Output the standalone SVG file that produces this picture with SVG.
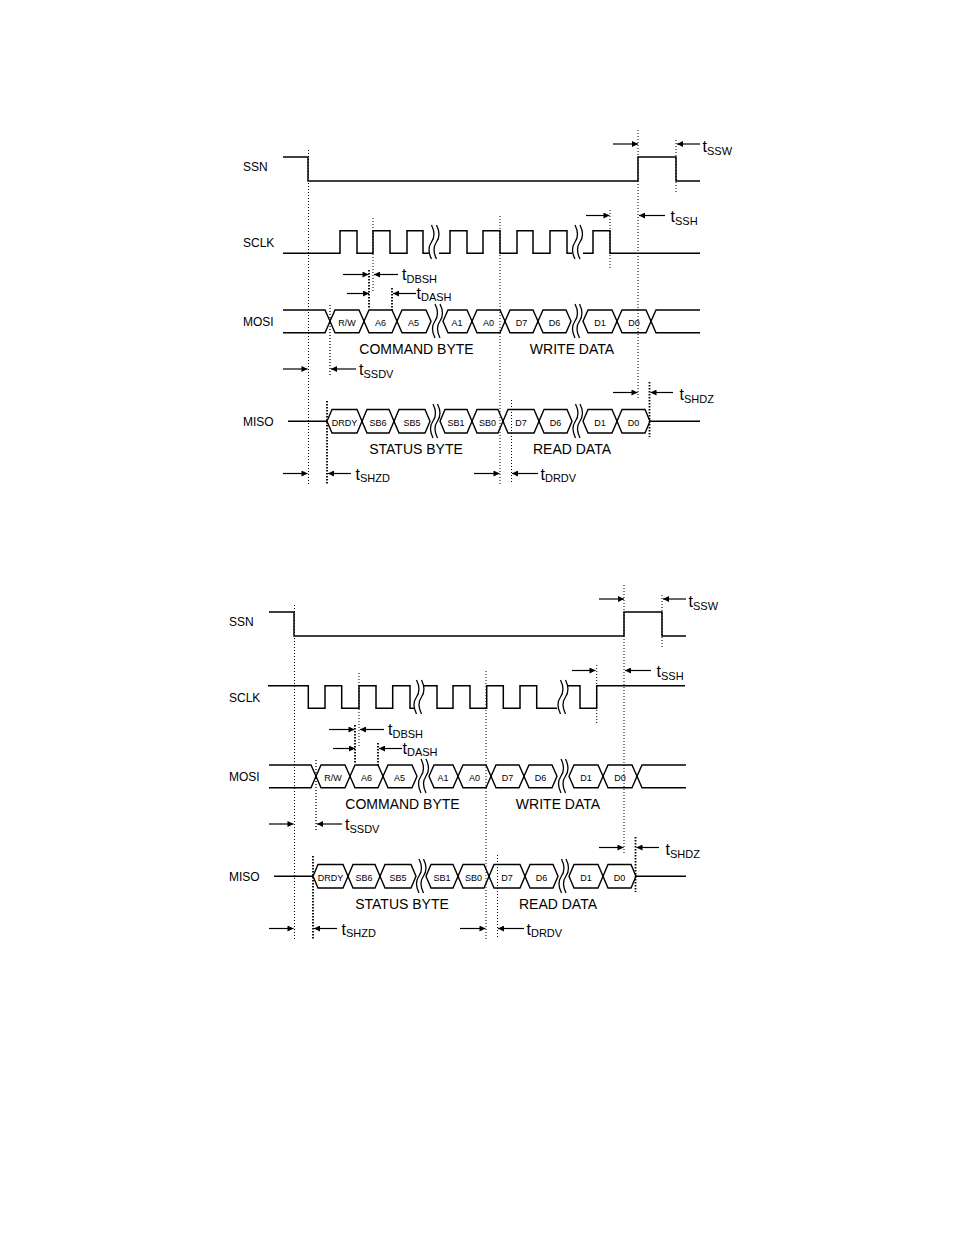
<svg xmlns="http://www.w3.org/2000/svg" xmlns:xlink="http://www.w3.org/1999/xlink" width="954" height="1235" viewBox="0 0 954 1235">
<style>
text{font-family:"Liberation Sans",Arial,sans-serif;fill:#000}
.lbl{font-size:12px}
.byte{font-size:14px;text-anchor:middle}
.cell{font-size:9px;text-anchor:middle}
.t{font-size:16px}
.sub{font-size:11px}
.wave{fill:none;stroke:#000;stroke-width:1.5}
.bus{fill:none;stroke:#000;stroke-width:1.4;stroke-linejoin:miter}
.d1{fill:none;stroke:#000;stroke-width:1;stroke-dasharray:1 2}
.d2{fill:none;stroke:#000;stroke-width:1.8;stroke-dasharray:1.5 1.5}
.arr{fill:none;stroke:#000;stroke-width:1.2;marker-end:url(#ah)}
.sq{fill:none;stroke:#000;stroke-width:1.3}
</style>
<defs>
<marker id="ah" viewBox="0 0 10 10" refX="10" refY="5" markerWidth="8" markerHeight="6" orient="auto" markerUnits="userSpaceOnUse">
<path d="M0,0 L10,5 L0,10 z" fill="#000"/>
</marker>
<path id="sq" class="sq" d="M0,0 c3.5,7 3.5,12 0,17 c-3.5,5 -3.5,10 0,17"/>
</defs>
<rect width="954" height="1235" fill="#fff"/>

<!-- ================= TOP DIAGRAM ================= -->
<g id="diagram-top">
<g id="top-ssn">
<text class="lbl" x="243" y="171">SSN</text>
<path class="wave" d="M283,157 H308 V181 H638 V157 H676 V181 H700"/>
</g>
<g id="top-sclk">
<text class="lbl" x="243" y="247">SCLK</text>
<path class="wave" d="M283,253.3 H340 V230.7 H357 V253.3 H373 V230.7 H390 V253.3 H407 V230.7 H423 V253.3 H429 M439,253.3 H450 V230.7 H467 V253.3 H483 V230.7 H500 V253.3 H517 V230.7 H533 V253.3 H550 V230.7 H567 V253.3 H572 M583,253.3 H593 V230.7 H610 V253.3 H700"/>
<use xlink:href="#sq" href="#sq" x="431.5" y="225"/>
<use xlink:href="#sq" href="#sq" x="436.5" y="225"/>
<use xlink:href="#sq" href="#sq" x="575" y="225"/>
<use xlink:href="#sq" href="#sq" x="580" y="225"/>
</g>
<g id="top-mosi">
<text class="lbl" x="243" y="326">MOSI</text>
<path class="bus" d="M283,310 H325 L330,321.3 L325,332.7 H283"/>
<polygon class="bus" points="330,321.3 335,310 359,310 364,321.3 359,332.7 335,332.7"/>
<polygon class="bus" points="364,321.3 369,310 392,310 397,321.3 392,332.7 369,332.7"/>
<polygon class="bus" points="397,321.3 402,310 426,310 431,321.3 426,332.7 402,332.7"/>
<polygon class="bus" points="443,321.3 448,310 467,310 472,321.3 467,332.7 448,332.7"/>
<polygon class="bus" points="472,321.3 477,310 500,310 505,321.3 500,332.7 477,332.7"/>
<polygon class="bus" points="505,321.3 510,310 533,310 538,321.3 533,332.7 510,332.7"/>
<polygon class="bus" points="538,321.3 543,310 566,310 571,321.3 566,332.7 543,332.7"/>
<polygon class="bus" points="583,321.3 588,310 612,310 617,321.3 612,332.7 588,332.7"/>
<polygon class="bus" points="617,321.3 622,310 646,310 651,321.3 646,332.7 622,332.7"/>
<path class="bus" d="M700,310 H656 L651,321.3 L656,332.7 H700"/>
<use xlink:href="#sq" href="#sq" x="435" y="304"/>
<use xlink:href="#sq" href="#sq" x="440" y="304"/>
<use xlink:href="#sq" href="#sq" x="575" y="304"/>
<use xlink:href="#sq" href="#sq" x="579.5" y="304"/>
<text class="cell" x="347" y="326">R/W</text>
<text class="cell" x="380.5" y="326">A6</text>
<text class="cell" x="413.5" y="326">A5</text>
<text class="cell" x="457" y="326">A1</text>
<text class="cell" x="488.5" y="326">A0</text>
<text class="cell" x="521.5" y="326">D7</text>
<text class="cell" x="554.5" y="326">D6</text>
<text class="cell" x="600" y="326">D1</text>
<text class="cell" x="634" y="326">D0</text>
<text class="byte" x="416.5" y="354">COMMAND BYTE</text>
<text class="byte" x="572" y="354">WRITE DATA</text>
</g>
<g id="top-miso">
<text class="lbl" x="243" y="426">MISO</text>
<path class="bus" d="M288,421.3 H327"/>
<polygon class="bus" points="327,421.3 332,409.5 357,409.5 362,421.3 357,433 332,433"/>
<polygon class="bus" points="362,421.3 367,409.5 389,409.5 394,421.3 389,433 367,433"/>
<polygon class="bus" points="394,421.3 399,409.5 425,409.5 430,421.3 425,433 399,433"/>
<polygon class="bus" points="440,421.3 445,409.5 467,409.5 472,421.3 467,433 445,433"/>
<polygon class="bus" points="472,421.3 477,409.5 498,409.5 503,421.3 498,433 477,433"/>
<polygon class="bus" points="503,421.3 508,409.5 534,409.5 539,421.3 534,433 508,433"/>
<polygon class="bus" points="539,421.3 544,409.5 567,409.5 572,421.3 567,433 544,433"/>
<polygon class="bus" points="583,421.3 588,409.5 612,409.5 617,421.3 612,433 588,433"/>
<polygon class="bus" points="617,421.3 622,409.5 645,409.5 650,421.3 645,433 622,433"/>
<path class="bus" d="M650,421.3 H700"/>
<use xlink:href="#sq" href="#sq" x="433" y="404"/>
<use xlink:href="#sq" href="#sq" x="437.5" y="404"/>
<use xlink:href="#sq" href="#sq" x="575.5" y="404"/>
<use xlink:href="#sq" href="#sq" x="580" y="404"/>
<text class="cell" x="344.5" y="425.5">DRDY</text>
<text class="cell" x="378" y="425.5">SB6</text>
<text class="cell" x="412" y="425.5">SB5</text>
<text class="cell" x="456" y="425.5">SB1</text>
<text class="cell" x="487.5" y="425.5">SB0</text>
<text class="cell" x="521" y="425.5">D7</text>
<text class="cell" x="555.5" y="425.5">D6</text>
<text class="cell" x="600" y="425.5">D1</text>
<text class="cell" x="633.5" y="425.5">D0</text>
<text class="byte" x="416" y="454">STATUS BYTE</text>
<text class="byte" x="572" y="453.5">READ DATA</text>
</g>
<g id="top-connectors">
<line class="d1" x1="308.5" y1="150" x2="308.5" y2="484"/>
<line class="d1" x1="373" y1="218" x2="373" y2="292"/>
<line class="d1" x1="500" y1="216" x2="500" y2="484"/>
<line class="d1" x1="610" y1="210" x2="610" y2="268"/>
<line class="d1" x1="638" y1="130" x2="638" y2="398"/>
<line class="d1" x1="676" y1="140" x2="676" y2="193"/>
<line class="d1" x1="511.5" y1="400" x2="511.5" y2="484"/>
<line class="d1" x1="330" y1="305" x2="330" y2="377" style="stroke-width:1.3"/>
<line class="d2" x1="369" y1="270" x2="369" y2="309"/>
<line class="d2" x1="392" y1="288" x2="392" y2="310"/>
<line class="d2" x1="327" y1="401" x2="327" y2="484"/>
<line class="d2" x1="649.5" y1="382" x2="649.5" y2="437"/>
<line class="arr" x1="613" y1="144" x2="638" y2="144"/>
<line class="arr" x1="700" y1="144" x2="677" y2="144"/>
<line class="arr" x1="586" y1="215.5" x2="609.5" y2="215.5"/>
<line class="arr" x1="665" y1="215.5" x2="639" y2="215.5"/>
<line class="arr" x1="343" y1="274.5" x2="368.5" y2="274.5"/>
<line class="arr" x1="398" y1="274.5" x2="374" y2="274.5"/>
<line class="arr" x1="347" y1="293.5" x2="369" y2="293.5"/>
<line class="arr" x1="416" y1="293.5" x2="393" y2="293.5"/>
<line class="arr" x1="283" y1="369" x2="307.5" y2="369"/>
<line class="arr" x1="356" y1="369" x2="331" y2="369"/>
<line class="arr" x1="283" y1="473.5" x2="307.5" y2="473.5"/>
<line class="arr" x1="351" y1="473.5" x2="328" y2="473.5"/>
<line class="arr" x1="474" y1="473.5" x2="499.5" y2="473.5"/>
<line class="arr" x1="538" y1="473.5" x2="512" y2="473.5"/>
<line class="arr" x1="613" y1="392.5" x2="637.5" y2="392.5"/>
<line class="arr" x1="673" y1="392.5" x2="650.5" y2="392.5"/>
</g>
<g id="top-timing-labels">
<text class="t" x="702.5" y="152">t<tspan class="sub" dy="2.5">SSW</tspan></text>
<text class="t" x="670.5" y="222">t<tspan class="sub" dy="2.5">SSH</tspan></text>
<text class="t" x="402" y="280">t<tspan class="sub" dy="2.5">DBSH</tspan></text>
<text class="t" x="416.5" y="298.5">t<tspan class="sub" dy="2.5">DASH</tspan></text>
<text class="t" x="359" y="375">t<tspan class="sub" dy="2.5">SSDV</tspan></text>
<text class="t" x="355.5" y="479.5">t<tspan class="sub" dy="2.5">SHZD</tspan></text>
<text class="t" x="540.5" y="479.5">t<tspan class="sub" dy="2.5">DRDV</tspan></text>
<text class="t" x="679.5" y="400">t<tspan class="sub" dy="2.5">SHDZ</tspan></text>
</g>
</g>

<!-- ================= BOTTOM DIAGRAM ================= -->
<g id="diagram-bottom" transform="translate(-14,455)">
<g id="bot-ssn">
<text class="lbl" x="243" y="171">SSN</text>
<path class="wave" d="M283,157 H308 V181 H638 V157 H676 V181 H700"/>
</g>
<g id="bot-sclk">
<text class="lbl" x="243" y="247">SCLK</text>
<path class="wave" d="M282,230.7 H322.3 V253.3 H339 V230.7 H355.7 V253.3 H373 V230.7 H390 V253.3 H406.7 V230.7 H424 V253.3 H429 M438,230.7 H451 V253.3 H467 V230.7 H484 V253.3 H500.7 V230.7 H517.3 V253.3 H534 V230.7 H550.7 V253.3 H571 M582,230.7 H594 V253.3 H610.7 V230.7 H699"/>
<use xlink:href="#sq" href="#sq" x="430.5" y="225"/>
<use xlink:href="#sq" href="#sq" x="435.5" y="225"/>
<use xlink:href="#sq" href="#sq" x="574.5" y="225"/>
<use xlink:href="#sq" href="#sq" x="579.5" y="225"/>
</g>
<g id="bot-mosi">
<text class="lbl" x="243" y="326">MOSI</text>
<path class="bus" d="M283,310 H325 L330,321.3 L325,332.7 H283"/>
<polygon class="bus" points="330,321.3 335,310 359,310 364,321.3 359,332.7 335,332.7"/>
<polygon class="bus" points="364,321.3 369,310 392,310 397,321.3 392,332.7 369,332.7"/>
<polygon class="bus" points="397,321.3 402,310 426,310 431,321.3 426,332.7 402,332.7"/>
<polygon class="bus" points="443,321.3 448,310 467,310 472,321.3 467,332.7 448,332.7"/>
<polygon class="bus" points="472,321.3 477,310 500,310 505,321.3 500,332.7 477,332.7"/>
<polygon class="bus" points="505,321.3 510,310 533,310 538,321.3 533,332.7 510,332.7"/>
<polygon class="bus" points="538,321.3 543,310 566,310 571,321.3 566,332.7 543,332.7"/>
<polygon class="bus" points="583,321.3 588,310 612,310 617,321.3 612,332.7 588,332.7"/>
<polygon class="bus" points="617,321.3 622,310 646,310 651,321.3 646,332.7 622,332.7"/>
<path class="bus" d="M700,310 H656 L651,321.3 L656,332.7 H700"/>
<use xlink:href="#sq" href="#sq" x="435" y="304"/>
<use xlink:href="#sq" href="#sq" x="440" y="304"/>
<use xlink:href="#sq" href="#sq" x="575" y="304"/>
<use xlink:href="#sq" href="#sq" x="579.5" y="304"/>
<text class="cell" x="347" y="326">R/W</text>
<text class="cell" x="380.5" y="326">A6</text>
<text class="cell" x="413.5" y="326">A5</text>
<text class="cell" x="457" y="326">A1</text>
<text class="cell" x="488.5" y="326">A0</text>
<text class="cell" x="521.5" y="326">D7</text>
<text class="cell" x="554.5" y="326">D6</text>
<text class="cell" x="600" y="326">D1</text>
<text class="cell" x="634" y="326">D0</text>
<text class="byte" x="416.5" y="354">COMMAND BYTE</text>
<text class="byte" x="572" y="354">WRITE DATA</text>
</g>
<g id="bot-miso">
<text class="lbl" x="243" y="426">MISO</text>
<path class="bus" d="M288,421.3 H327"/>
<polygon class="bus" points="327,421.3 332,409.5 357,409.5 362,421.3 357,433 332,433"/>
<polygon class="bus" points="362,421.3 367,409.5 389,409.5 394,421.3 389,433 367,433"/>
<polygon class="bus" points="394,421.3 399,409.5 425,409.5 430,421.3 425,433 399,433"/>
<polygon class="bus" points="440,421.3 445,409.5 467,409.5 472,421.3 467,433 445,433"/>
<polygon class="bus" points="472,421.3 477,409.5 498,409.5 503,421.3 498,433 477,433"/>
<polygon class="bus" points="503,421.3 508,409.5 534,409.5 539,421.3 534,433 508,433"/>
<polygon class="bus" points="539,421.3 544,409.5 567,409.5 572,421.3 567,433 544,433"/>
<polygon class="bus" points="583,421.3 588,409.5 612,409.5 617,421.3 612,433 588,433"/>
<polygon class="bus" points="617,421.3 622,409.5 645,409.5 650,421.3 645,433 622,433"/>
<path class="bus" d="M650,421.3 H700"/>
<use xlink:href="#sq" href="#sq" x="433" y="404"/>
<use xlink:href="#sq" href="#sq" x="437.5" y="404"/>
<use xlink:href="#sq" href="#sq" x="575.5" y="404"/>
<use xlink:href="#sq" href="#sq" x="580" y="404"/>
<text class="cell" x="344.5" y="425.5">DRDY</text>
<text class="cell" x="378" y="425.5">SB6</text>
<text class="cell" x="412" y="425.5">SB5</text>
<text class="cell" x="456" y="425.5">SB1</text>
<text class="cell" x="487.5" y="425.5">SB0</text>
<text class="cell" x="521" y="425.5">D7</text>
<text class="cell" x="555.5" y="425.5">D6</text>
<text class="cell" x="600" y="425.5">D1</text>
<text class="cell" x="633.5" y="425.5">D0</text>
<text class="byte" x="416" y="454">STATUS BYTE</text>
<text class="byte" x="572" y="453.5">READ DATA</text>
</g>
<g id="bot-connectors">
<line class="d1" x1="308.5" y1="150" x2="308.5" y2="484"/>
<line class="d1" x1="373" y1="218" x2="373" y2="292"/>
<line class="d1" x1="500" y1="216" x2="500" y2="484"/>
<line class="d1" x1="610.7" y1="210" x2="610.7" y2="268"/>
<line class="d1" x1="638" y1="130" x2="638" y2="398"/>
<line class="d1" x1="676" y1="140" x2="676" y2="193"/>
<line class="d1" x1="511.5" y1="400" x2="511.5" y2="484"/>
<line class="d1" x1="330" y1="305" x2="330" y2="377" style="stroke-width:1.3"/>
<line class="d2" x1="369" y1="270" x2="369" y2="309"/>
<line class="d2" x1="392" y1="288" x2="392" y2="310"/>
<line class="d2" x1="327" y1="401" x2="327" y2="484"/>
<line class="d2" x1="649.5" y1="382" x2="649.5" y2="437"/>
<line class="arr" x1="613" y1="144" x2="638" y2="144"/>
<line class="arr" x1="700" y1="144" x2="677" y2="144"/>
<line class="arr" x1="586" y1="215.5" x2="609.5" y2="215.5"/>
<line class="arr" x1="665" y1="215.5" x2="639" y2="215.5"/>
<line class="arr" x1="343" y1="274.5" x2="368.5" y2="274.5"/>
<line class="arr" x1="398" y1="274.5" x2="374" y2="274.5"/>
<line class="arr" x1="347" y1="293.5" x2="369" y2="293.5"/>
<line class="arr" x1="416" y1="293.5" x2="393" y2="293.5"/>
<line class="arr" x1="283" y1="369" x2="307.5" y2="369"/>
<line class="arr" x1="356" y1="369" x2="331" y2="369"/>
<line class="arr" x1="283" y1="473.5" x2="307.5" y2="473.5"/>
<line class="arr" x1="351" y1="473.5" x2="328" y2="473.5"/>
<line class="arr" x1="474" y1="473.5" x2="499.5" y2="473.5"/>
<line class="arr" x1="538" y1="473.5" x2="512" y2="473.5"/>
<line class="arr" x1="613" y1="392.5" x2="637.5" y2="392.5"/>
<line class="arr" x1="673" y1="392.5" x2="650.5" y2="392.5"/>
</g>
<g id="bot-timing-labels">
<text class="t" x="702.5" y="152">t<tspan class="sub" dy="2.5">SSW</tspan></text>
<text class="t" x="670.5" y="222">t<tspan class="sub" dy="2.5">SSH</tspan></text>
<text class="t" x="402" y="280">t<tspan class="sub" dy="2.5">DBSH</tspan></text>
<text class="t" x="416.5" y="298.5">t<tspan class="sub" dy="2.5">DASH</tspan></text>
<text class="t" x="359" y="375">t<tspan class="sub" dy="2.5">SSDV</tspan></text>
<text class="t" x="355.5" y="479.5">t<tspan class="sub" dy="2.5">SHZD</tspan></text>
<text class="t" x="540.5" y="479.5">t<tspan class="sub" dy="2.5">DRDV</tspan></text>
<text class="t" x="679.5" y="400">t<tspan class="sub" dy="2.5">SHDZ</tspan></text>
</g>
</g>
</svg>
